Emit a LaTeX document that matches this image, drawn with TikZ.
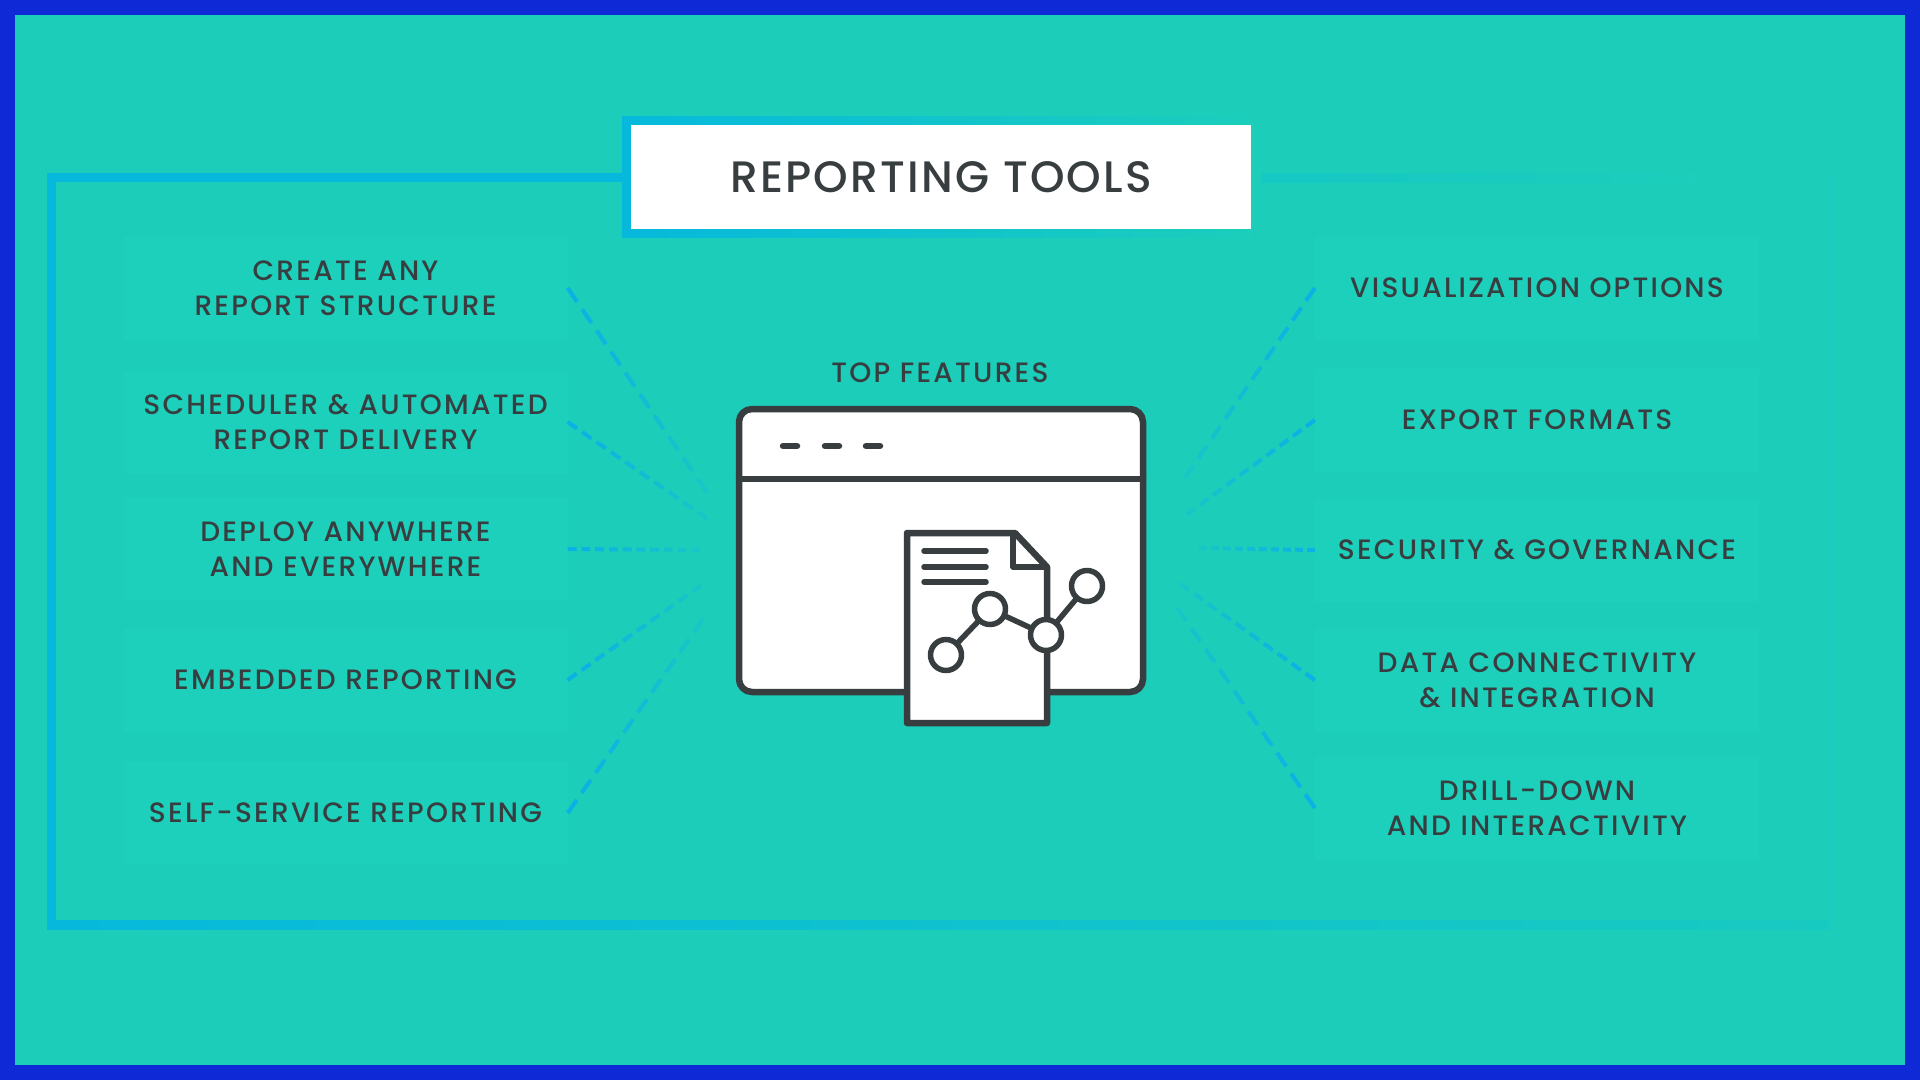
\documentclass[tikz,border=0pt]{standalone}
\usepackage{fontspec}
\setmainfont{Poppins Medium}
\usetikzlibrary{calc}
\definecolor{bgteal}{HTML}{1CCEBA}
\definecolor{paneteal}{HTML}{1DD0BC}
\definecolor{edgeblue}{HTML}{1029D6}
\definecolor{framecyan}{HTML}{06B9DC}
\definecolor{dashcyan}{HTML}{0AB0E6}
\definecolor{inkgray}{HTML}{383D40}
\begin{document}
\begin{tikzpicture}[x=1pt,y=-1pt,line cap=round,line join=round,
    panel/.style={fill=paneteal,minimum width=444pt,minimum height=103pt,inner sep=0pt,align=center,text=inkgray,font=\fontsize{28}{35}\selectfont\addfontfeature{LetterSpace=8}},
    dashline/.style={line width=4pt,line cap=butt},
    icon/.style={draw=inkgray,line width=6.5pt,fill=white},
    iconline/.style={draw=inkgray,line width=5.5pt}]
\useasboundingbox (0,0) rectangle (1920,1080);
\fill[edgeblue] (0,0) rectangle (1920,1080);
\fill[bgteal] (15,15) rectangle (1905,1065);
% frame, fades to the right
\fill[framecyan] (47,173) rectangle (56,929);
\fill[framecyan] (47,173) rectangle (640,182);
\shade[left color=framecyan!30!bgteal,right color=bgteal] (1260,173) rectangle (1720,182);
\shade[left color=framecyan,right color=framecyan!20!bgteal] (47,920) rectangle (1836,929);
\fill[framecyan!6!bgteal] (1829,173) rectangle (1836,929);
% labels
\foreach \i/\y/\txt in {1/288/{CREATE ANY\\REPORT STRUCTURE},2/422/{SCHEDULER \& AUTOMATED\\REPORT DELIVERY},3/549/{DEPLOY ANYWHERE\\AND EVERYWHERE},4/680/{EMBEDDED REPORTING},5/813/{SELF-SERVICE REPORTING}}
\node[panel] (left\i) at (345.5,\y) {\txt};
\foreach \i/\y/\txt in {1/288/{VISUALIZATION OPTIONS},2/420/{EXPORT FORMATS},3/550/{SECURITY \& GOVERNANCE},4/680/{DATA CONNECTIVITY\\\& INTEGRATION},5/808/{DRILL-DOWN\\AND INTERACTIVITY}}
\node[panel] (right\i) at (1537,\y) {\txt};
% title box
\shade[left color=framecyan,right color=bgteal] (622,116) rectangle (1262,237);
\node[fill=white,minimum width=620pt,minimum height=104pt,inner sep=0pt,text=inkgray,font=\fontsize{44}{50}\selectfont\addfontfeature{LetterSpace=5}] (title) at (941,177) {REPORTING TOOLS};
\node[text=inkgray,font=\fontsize{28}{30}\selectfont\addfontfeature{LetterSpace=8},inner sep=0pt] (top) at (940,373) {TOP FEATURES};
% dashed spokes
\coordinate (hl1) at (712,500);
\coordinate (hl2) at (712,522);
\coordinate (hl3) at (705,550);
\coordinate (hl4) at (706,582);
\coordinate (hl5) at (708,612);
\coordinate (hr1) at (1180,485);
\coordinate (hr2) at (1182,518);
\coordinate (hr3) at (1195,548);
\coordinate (hr4) at (1175,580);
\coordinate (hr5) at (1172,600);
\foreach \a/\b in {left1.east/hl1,left2.east/hl2,left3.east/hl3,left4.east/hl4,left5.east/hl5,right1.west/hr1,right2.west/hr2,right3.west/hr3,right4.west/hr4,right5.west/hr5}
\foreach \k in {0,...,9} {
\pgfmathsetmacro\s{\k/10}
\pgfmathsetmacro\e{(\k+.65)/10}
\pgfmathsetmacro\o{100-\k*8}
\draw[dashline,dashcyan!\o!bgteal] ($(\a)!\s!(\b)$) -- ($(\a)!\e!(\b)$);
}
% window
\draw[icon,rounded corners=13pt] (739,409) rectangle (1143,692);
\draw[iconline,line width=6.5pt] (739,479) -- (1143,479);
\foreach \x in {780,822,863}
\draw[iconline,line width=6.5pt] (\x+3,446) -- (\x+17,446);
% page
\draw[icon] (907,533) -- (1015,533) -- (1047,567) -- (1047,723) -- (907,723) -- cycle;
\draw[iconline] (1013,533) -- (1013,567) -- (1047,567);
\foreach \y in {551,567,582}
\draw[iconline] (924,\y) -- (986,\y);
% chart
\draw[iconline] (946,655) -- (990,609) -- (1046,635) -- (1087,586);
\foreach \x/\y in {946/655,990/609,1046/635,1087/586}
\draw[iconline,fill=white] (\x,\y) circle (15.5pt);
\end{tikzpicture}
\end{document}
